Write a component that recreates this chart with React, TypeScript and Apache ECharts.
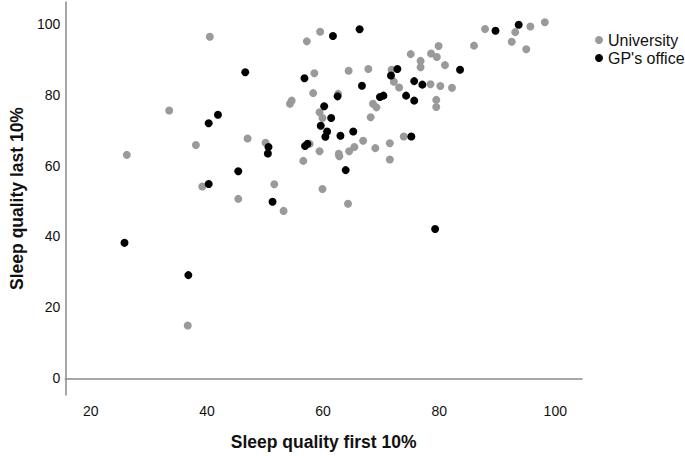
import React, { useEffect, useRef } from "react";
import * as echarts from "echarts";

const seriesNames = ["University", "GP's office"];

const universityPoints: number[][] = [
  [40.5, 96.3], [59.5, 97.7], [57.2, 95.0], [58.5, 86.0], [58.3, 80.4], [33.5, 75.5],
  [54.3, 77.4], [54.6, 78.3], [59.4, 75.0], [59.9, 73.4], [38.1, 65.8], [47.0, 67.6],
  [50.1, 66.4], [26.2, 63.0], [57.7, 66.1], [59.4, 64.0], [62.7, 63.3], [62.8, 62.6],
  [56.6, 61.3], [39.2, 54.1], [51.6, 54.7], [59.9, 53.4], [45.4, 50.6], [53.2, 47.2],
  [87.9, 98.5], [95.7, 99.2], [98.2, 100.4], [93.1, 97.6], [92.5, 94.9], [95.0, 92.8],
  [86.0, 93.8], [79.9, 93.7], [75.1, 91.4], [78.6, 91.6], [79.6, 90.6], [76.8, 89.5],
  [76.8, 87.7], [81.0, 88.3], [64.4, 86.7], [67.8, 87.2], [71.8, 87.0], [72.2, 83.6],
  [73.1, 82.0], [78.5, 82.9], [80.2, 82.4], [82.2, 81.9], [62.6, 80.2], [79.5, 78.5],
  [79.5, 76.5], [68.6, 77.4], [69.2, 76.4], [68.2, 73.6], [66.9, 67.0], [73.9, 68.2],
  [64.5, 64.0], [65.4, 65.2], [69.0, 64.9], [71.5, 66.3], [71.5, 61.7], [64.3, 49.2],
  [36.7, 14.9],
];

const gpPoints: number[][] = [
  [61.7, 96.5], [66.3, 98.4], [89.7, 98.0], [93.7, 99.7], [46.6, 86.3], [56.8, 84.6],
  [83.6, 87.0], [72.8, 87.2], [71.7, 85.4], [75.7, 83.8], [77.1, 82.8], [66.7, 82.5],
  [62.5, 79.5], [69.8, 79.3], [70.4, 79.7], [74.3, 79.7], [75.7, 78.3], [60.2, 76.7],
  [61.4, 73.4], [41.9, 74.3], [40.3, 71.9], [59.6, 71.2], [60.7, 69.6], [60.4, 68.1],
  [63.0, 68.4], [65.2, 69.6], [75.2, 68.2], [50.6, 65.2], [50.5, 63.4], [56.9, 65.5],
  [57.3, 66.1], [45.4, 58.4], [63.9, 58.7], [40.3, 54.8], [51.3, 49.8], [25.8, 38.2],
  [36.8, 29.1], [79.3, 42.1],
];

const xAxisTitle = "Sleep quality first 10%";
const yAxisTitle = "Sleep quality last 10%";
const xRange = [15.6, 104.6];
const yRange = [-4.7, 106.1];
const tickStep = 20;

const FONT = "'Liberation Sans', Arial, sans-serif";

export default function App() {
  const ref = useRef<HTMLDivElement>(null);
  useEffect(() => {
    if (!ref.current) return;
    const chart = echarts.init(ref.current, undefined, { renderer: "svg" });
    const labelFmt = (v: number) =>
      Math.abs(v % tickStep) < 1e-9 ? String(v) : "";
    chart.setOption({
      animation: false,
      backgroundColor: "#ffffff",
      textStyle: { fontFamily: FONT },
      grid: { left: 61, right: 103, top: 2, bottom: 59, containLabel: false },
      legend: {
        orient: "vertical",
        left: 590,
        top: 27,
        icon: "circle",
        itemWidth: 8,
        itemHeight: 8,
        itemGap: 2,
        textStyle: { fontSize: 16, color: "#111", fontFamily: FONT },
        data: seriesNames,
      },
      xAxis: {
        type: "value",
        min: xRange[0],
        max: xRange[1],
        splitNumber: 5,
        name: xAxisTitle,
        nameLocation: "middle",
        nameGap: 38,
        nameTextStyle: { fontSize: 17.5, fontWeight: "bold", color: "#111", fontFamily: FONT },
        axisLine: { show: true, lineStyle: { color: "#8a8a8a", width: 1.5 } },
        axisTick: { show: false },
        splitLine: { show: false },
        axisLabel: { fontSize: 14, color: "#111", margin: 9, formatter: labelFmt, fontFamily: FONT },
      },
      yAxis: {
        type: "value",
        min: yRange[0],
        max: yRange[1],
        splitNumber: 5,
        name: yAxisTitle,
        nameLocation: "middle",
        nameGap: 35,
        nameRotate: 90,
        nameTextStyle: { fontSize: 17.5, fontWeight: "bold", color: "#111", fontFamily: FONT },
        axisLine: { show: true, lineStyle: { color: "#8a8a8a", width: 1.5 } },
        axisTick: { show: false },
        splitLine: { show: false },
        axisLabel: { fontSize: 14, color: "#111", margin: 5, formatter: labelFmt, fontFamily: FONT },
      },
      series: [
        {
          name: seriesNames[0],
          type: "scatter",
          data: universityPoints,
          symbolSize: 8,
          itemStyle: { color: "#9a9a9a", opacity: 1 },
        },
        {
          name: seriesNames[1],
          type: "scatter",
          data: gpPoints,
          symbolSize: 8,
          itemStyle: { color: "#000000", opacity: 1 },
        },
      ],
    });
    return () => chart.dispose();
  }, []);
  return (
    <div
      ref={ref}
      style={{ position: "fixed", left: 0, top: 0, width: 685, height: 456, background: "#fff" }}
    />
  );
}
